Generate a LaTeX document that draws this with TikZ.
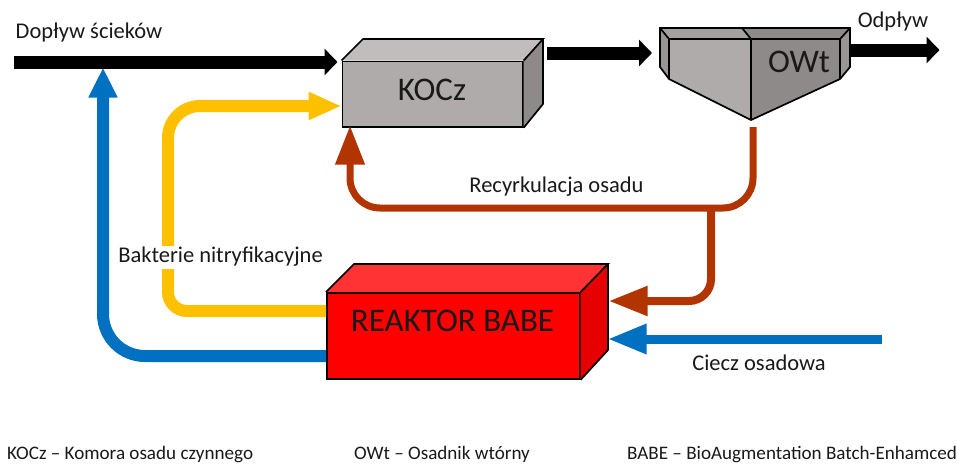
\documentclass[tikz,border=0pt]{standalone}
\usepackage{fontspec}
\setmainfont{Carlito}
\usetikzlibrary{arrows.meta}
\definecolor{cblue}{HTML}{0070C0}
\definecolor{cyellow}{HTML}{FFC000}
\definecolor{cbrown}{HTML}{B23400}
\definecolor{gfront}{HTML}{AFABAB}
\definecolor{gtop}{HTML}{C2BDBD}
\definecolor{gside}{HTML}{8F8A8A}
\definecolor{gtopl}{HTML}{A5A0A0}
\definecolor{gsidel}{HTML}{9A9595}
\definecolor{rtop}{HTML}{FF3333}
\definecolor{rside}{HTML}{E60000}
\tikzset{
  lbl/.style={font=\fontsize{22.5}{27}\selectfont, inner sep=0pt, anchor=base, text=black!90},
  small/.style={font=\fontsize{19.1}{23}\selectfont, inner sep=0pt, anchor=base west, text=black!90},
  big/.style={font=\fontsize{33}{38}\selectfont, inner sep=0pt, anchor=base, text=black!90},
  face/.style={draw=black, line width=1.7pt, line join=miter},
  frontbox/.style={face, inner sep=0pt, anchor=north west},
  pipeblack/.style={line width=13pt, draw=black, -{Triangle[length=13pt,width=26pt]}},
  pipeblue/.style={line width=12pt, draw=cblue, -{Triangle[length=30pt,width=27pt]}},
  pipeyellow/.style={line width=12pt, draw=cyellow, -{Triangle[length=33pt,width=26pt]}},
  pipebrown/.style={line width=7pt, draw=cbrown},
  brownhead/.style={-{Triangle[length=39pt,width=28pt]}},
}
\begin{document}
\begin{tikzpicture}[x=1pt,y=-1pt]
\useasboundingbox (0,0) rectangle (957,464);
% boxes
\node[frontbox, fill=gfront, minimum width=180.5pt, minimum height=65.5pt] (kocz) at (341.5,60.5) {};
\fill[gtop] (kocz.north west) -- (363,39) -- (543,39) -- (kocz.north east) -- cycle;
\fill[gside] (kocz.north east) -- (543,39) -- (543,104) -- (kocz.south east) -- cycle;
\draw[face] (kocz.north west) -- (363,39) -- (543,39) -- (kocz.north east);
\draw[face] (543,39) -- (543,104) -- (kocz.south east);
\node[big] (koczt) at (432,100) {KOCz};

\coordinate (owtl) at (660,28);
\coordinate (owtr) at (850,28);
\coordinate (owtb) at (751,120);
\fill[gtopl] (owtl) -- (742,28) -- (751,39) -- (669,39) -- cycle;
\fill[gside] (742,28) -- (owtr) -- (840,39) -- (751,39) -- cycle;
\fill[gsidel] (owtl) -- (669,39) -- (669,79) -- (660,67) -- cycle;
\fill[gsidel] (owtr) -- (840,39) -- (840,79) -- (850,67) -- cycle;
\fill[gfront] (669,39) -- (751,39) -- (owtb) -- (669,79) -- cycle;
\fill[gside] (751,39) -- (840,39) -- (840,79) -- (owtb) -- cycle;
\draw[face] (owtl) -- (owtr) -- (850,67) -- (840,79) -- (owtb) -- (669,79) -- (660,67) -- cycle;
\draw[face] (owtl) -- (669,39) -- (840,39) -- (owtr);
\draw[face] (669,39) -- (669,79);
\draw[face] (840,39) -- (840,79);
\draw[face] (742,28) -- (751,39) -- (owtb);
\node[big] (owtt) at (799,72) {OWt};

\node[frontbox, fill=red, minimum width=253pt, minimum height=86pt] (babe) at (326,292) {};
\fill[rtop] (babe.north west) -- (354,264) -- (608,264) -- (babe.north east) -- cycle;
\fill[rside] (babe.north east) -- (608,264) -- (608,350) -- (babe.south east) -- cycle;
\draw[face] (babe.north west) -- (354,264) -- (608,264) -- (babe.north east);
\draw[face] (608,264) -- (608,350) -- (babe.south east);
\node[big] (babet) at (452.5,331.7) {REAKTOR BABE};

% free ends
\coordinate (inA) at (14,62);
\coordinate (tipA) at (337.5,62);
\coordinate (outB) at (547,53);
\coordinate (tipB) at (652,53);
\coordinate (outC) at (850,50);
\coordinate (tipC) at (939.5,50);
\coordinate (blueT) at (103,67.5);
\coordinate (blueS) at (326,356);
\coordinate (yelS) at (326,311);
\coordinate (yelT) at (341.5,106);
\coordinate (brS) at (753,127);
\coordinate (brT) at (350,125.5);
\coordinate (brJ) at (711,208);
\coordinate (brU) at (608.5,301);
\coordinate (liqS) at (882,339);
\coordinate (liqT) at (607.5,339);

% pipes
\draw[pipeblue, rounded corners=42pt] (blueS) -- (103,356) -- (blueT);
\draw[pipeyellow] (yelS) [rounded corners=19pt] -- (168,311) [rounded corners=32pt] -- (168,106) [sharp corners] -- (yelT);
\draw[pipeblack] (inA) -- (tipA);
\draw[pipeblack] (outB) -- (tipB);
\draw[pipeblack] (outC) -- (tipC);
\draw[pipebrown, brownhead, rounded corners=30pt] (brS) -- (753,208) -- (350,208) -- (brT);
\draw[pipebrown, line width=8pt, brownhead, rounded corners=22pt] (brJ) -- (711,301) -- (brU);
\draw[pipeblue, line width=9pt, -{Triangle[length=39pt,width=28pt]}] (liqS) -- (liqT);

% labels
\node[lbl] (l1) at (89,38) {Dopływ ścieków};
\node[lbl] (l2) at (893,27) {Odpływ};
\node[lbl, fill=white, text height=15pt, text depth=5pt, inner ysep=1.5pt, inner xsep=2pt] (l3) at (220.5,262.7) {Bakterie nitryfikacyjne};
\node[lbl] (l4) at (556.5,192.7) {Recyrkulacja osadu};
\node[lbl] (l5) at (759,370) {Ciecz osadowa};
\node[small] (k1) at (7,459.3) {KOCz – Komora osadu czynnego};
\node[small] (k2) at (354,459.3) {OWt – Osadnik wtórny};
\node[small] (k3) at (627,459.3) {BABE – BioAugmentation Batch-Enhamced};
\end{tikzpicture}
\end{document}
